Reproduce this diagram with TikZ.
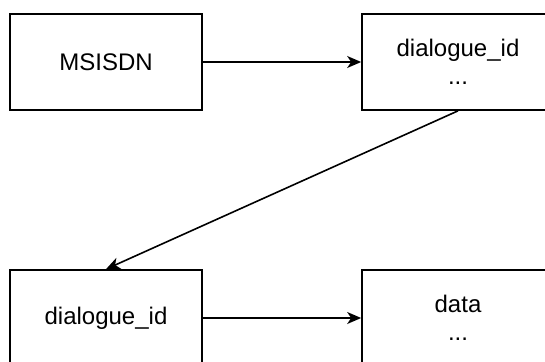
\documentclass[tikz,border=0pt]{standalone}
\usepackage{fontspec}
\setmainfont{Liberation Sans}
\usetikzlibrary{arrows.meta}
\begin{document}
\begin{tikzpicture}[x=1pt,y=-1pt,
  box/.style={draw=black, line width=1.7pt, minimum width=192pt, minimum height=96pt, inner sep=0pt, align=center,
    font=\fontsize{24}{28}\selectfont},
  conn/.style={line width=1.6pt, -{Stealth[length=14pt,width=12pt,inset=4pt]}}]
\useasboundingbox (0,0) rectangle (545,361);
\node[box] (msisdn) at (106,62) {MSISDN};
\node[box] (did1) at (458,62) {dialogue\_id\\[0pt]...};
\node[box] (did2) at (106,318) {\raisebox{-1pt}{dialogue\_id}};
\node[box] (data) at (458,318) {data\\[0pt]...};
\draw[conn] (msisdn) -- (did1);
\draw[conn] (did1.south) -- (did2.north);
\draw[conn] (did2) -- (data);
\end{tikzpicture}
\end{document}
